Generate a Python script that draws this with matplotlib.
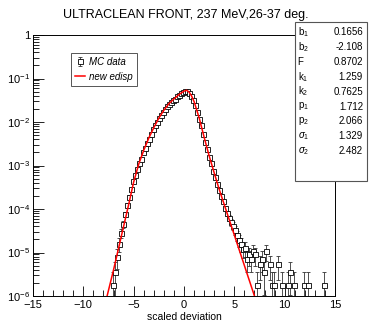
import numpy as np
import matplotlib
matplotlib.use("Agg")
import matplotlib.pyplot as plt
from matplotlib.lines import Line2D

plt.rcParams['font.family'] = ['Liberation Sans', 'DejaVu Sans']
plt.rcParams['mathtext.fontset'] = 'custom'
plt.rcParams['mathtext.rm'] = 'Liberation Sans'
plt.rcParams['mathtext.it'] = 'Liberation Sans:italic'

title = "ULTRACLEAN FRONT, 237 MeV,26-37 deg."
xlabel = "scaled deviation"

# histogram core: bin centres (width 0.2) and log10 of bin content
core_x = [-7.1, -6.9, -6.7, -6.5, -6.3, -6.1, -5.9, -5.7, -5.5, -5.3, -5.1,
          -4.9, -4.7, -4.5, -4.3, -4.1, -3.9, -3.7, -3.5, -3.3, -3.1,
          -2.9, -2.7, -2.5, -2.3, -2.1, -1.9, -1.7, -1.5, -1.3, -1.1,
          -0.9, -0.7, -0.5, -0.3, -0.1, 0.1, 0.3, 0.5, 0.7, 0.9,
          1.1, 1.3, 1.5, 1.7, 1.9, 2.1, 2.3, 2.5, 2.7, 2.9,
          3.1, 3.3, 3.5, 3.7, 3.9, 4.1, 4.3, 4.5, 4.7, 4.9,
          5.1, 5.3, 5.5, 5.7, 5.9]
core_log = [-5.75, -5.45, -5.10, -4.80, -4.55, -4.35, -4.12, -3.90, -3.72, -3.55, -3.35,
            -3.22, -3.08, -2.95, -2.86, -2.70, -2.60, -2.48, -2.38, -2.27, -2.16,
            -2.08, -1.99, -1.91, -1.83, -1.76, -1.70, -1.64, -1.59, -1.54, -1.50,
            -1.46, -1.41, -1.37, -1.33, -1.30, -1.28, -1.29, -1.33, -1.40, -1.50,
            -1.62, -1.76, -1.92, -2.08, -2.27, -2.45, -2.62, -2.80, -2.95, -3.12,
            -3.27, -3.42, -3.56, -3.70, -3.82, -3.98, -4.10, -4.20, -4.30, -4.38,
            -4.48, -4.60, -4.72, -4.80, -4.92]

# sparse right tail: bin centres and raw entries
tail_x = [6.1, 6.3, 6.5, 6.7, 6.9, 7.1, 7.3, 7.5, 7.7, 7.9, 8.1, 8.5, 8.7, 8.9,
          9.3, 9.7, 10.3, 10.5, 10.9, 11.9, 12.3, 13.9]
tail_counts = [7, 4, 5, 4, 6, 5, 1, 3, 4, 2, 6, 3, 1, 1,
               3, 1, 1, 2, 1, 1, 1, 1]
unit = 1.8e-6  # content of a single entry

# fitted function, log10 values
fit_x = [-7.8, -7.0, -6.5, -6.0, -5.5, -5.0, -4.5, -4.0, -3.5, -3.0, -2.5, -2.0,
         -1.5, -1.0, -0.5, 0.0, 0.25, 0.5, 0.75, 1.0, 1.5, 2.0, 2.5, 3.0,
         3.5, 4.0, 4.5, 5.0, 5.5, 6.0, 6.5, 7.0, 7.2]
fit_log = [-6.15, -5.40, -4.90, -4.40, -3.90, -3.38, -2.97, -2.65, -2.37, -2.13, -1.91, -1.73,
           -1.58, -1.47, -1.37, -1.29, -1.27, -1.31, -1.40, -1.53, -1.90, -2.35, -2.78, -3.17,
           -3.55, -3.90, -4.25, -4.60, -4.95, -5.30, -5.65, -6.00, -6.15]

stat_names = ["b$_{1}$", "b$_{2}$", "F", "k$_{1}$", "k$_{2}$", "p$_{1}$", "p$_{2}$",
              r"$\sigma_{1}$", r"$\sigma_{2}$"]
stat_values = ["0.1656", "-2.108", "0.8702", "1.259", "0.7625", "1.712", "2.066",
               "1.329", "2.482"]

W, H = 372, 325
fig = plt.figure(figsize=(W / 100, H / 100), dpi=100)
ax = fig.add_axes([33 / W, 1 - 296 / H, (335 - 33) / W, (296 - 35) / H])

hx = np.array(core_x + tail_x)
hy = np.concatenate([10 ** np.array(core_log), np.array(tail_counts) * unit])
herr = np.sqrt(hy * unit)
lo = np.minimum(herr, hy * 0.999999)

data = ax.errorbar(hx, hy, yerr=[lo, herr], fmt='s', mfc='white', mec='black', mew=0.6,
                   ms=3.6, ecolor='#333333', elinewidth=0.6, capsize=1.2, capthick=0.6,
                   zorder=2)
fit_line, = ax.plot(fit_x, 10 ** np.array(fit_log), color='red', lw=1.1, zorder=3)

ax.set_yscale('log')
ax.set_xlim(-15, 15)
ax.set_ylim(1e-6, 1)
ax.set_xticks(np.arange(-15, 16, 5))
ax.set_xticks(np.arange(-15, 16, 1), minor=True)
ax.set_yticks([1e-6, 1e-5, 1e-4, 1e-3, 1e-2, 1e-1, 1])
ax.set_yticklabels(["10$^{-6}$", "10$^{-5}$", "10$^{-4}$", "10$^{-3}$", "10$^{-2}$",
                    "10$^{-1}$", "1"])
ax.tick_params(axis='both', which='both', direction='in', top=False, right=False,
               labelsize=8, width=0.6)
ax.tick_params(axis='x', which='major', length=7, pad=3)
ax.tick_params(axis='x', which='minor', length=4)
ax.tick_params(axis='y', which='major', length=8, pad=2)
ax.tick_params(axis='y', which='minor', length=4)
for s in ax.spines.values():
    s.set_linewidth(0.7)
ax.set_xlabel(xlabel, fontsize=7.5, labelpad=1)

fig.text(186 / W, 1 - 15 / H, title, ha='center', va='center', fontsize=9)

# legend
leg = ax.legend([data, fit_line], ["MC data", "new edisp"], loc='upper left',
                bbox_to_anchor=((71 - 33) / (335 - 33), 1 - (53 - 35) / (296 - 35)),
                prop={'style': 'italic', 'size': 7}, fancybox=False, framealpha=1,
                edgecolor='#555555', handlelength=1.0, handletextpad=0.5,
                borderpad=0.4, labelspacing=0.5, borderaxespad=0)
leg.get_frame().set_linewidth(0.7)

# parameter box
bx0, bx1, by0, by1 = 295, 367, 22, 181
box = plt.Rectangle((bx0 / W, 1 - by1 / H), (bx1 - bx0) / W, (by1 - by0) / H,
                    transform=fig.transFigure, facecolor='white', edgecolor='#555555',
                    lw=0.8, zorder=5)
fig.patches.append(box)
for i, (n, v) in enumerate(zip(stat_names, stat_values)):
    yy = 1 - (32 + i * 14.9) / H
    fig.text(297.5 / W, yy, n, ha='left', va='center', fontsize=7, zorder=6)
    fig.text(363 / W, yy, v, ha='right', va='center', fontsize=7, zorder=6)

fig.savefig("out.png", dpi=100)
